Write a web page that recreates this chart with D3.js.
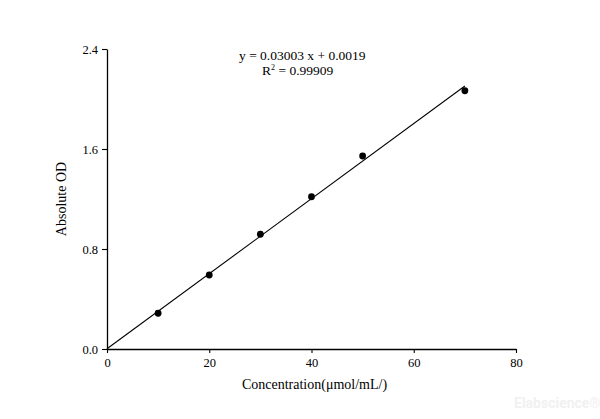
<!DOCTYPE html>
<html>
<head>
<meta charset="utf-8">
<script src="https://cdn.jsdelivr.net/npm/d3@7"></script>
<style>
  html, body { margin: 0; padding: 0; background: #fff; }
  svg text { font-family: "Liberation Serif", "Times New Roman", serif; fill: #000; }
</style>
</head>
<body>
<div id="chart"></div>
<script>
// measured standards: concentration vs absorbance
const concentration = [10, 20, 30, 40, 50, 70];
const absorbance = [0.286, 0.592, 0.918, 1.218, 1.544, 2.066];
const fitSlope = 0.03003;
const fitIntercept = 0.0019;
const fitRange = [0, 70];
const xTicks = [0, 20, 40, 60, 80];
const yTicks = [0.0, 0.8, 1.6, 2.4];

const W = 600, H = 419;
const margin = { left: 107, right: 84, top: 49, bottom: 70 };

const svg = d3.select('#chart').append('svg')
  .attr('width', W).attr('height', H);

const x = d3.scaleLinear().domain([0, 80]).range([margin.left, W - margin.right]);
const y = d3.scaleLinear().domain([0, 2.4]).range([H - margin.bottom, margin.top]);

// minor ticks at the midpoints
const xMinor = d3.range(10, 80, 20);
const yMinor = d3.range(0.4, 2.4, 0.8);

const gx = svg.append('g').attr('transform', 'translate(0,' + y(0) + ')');
gx.call(d3.axisBottom(x).tickValues(xMinor).tickSize(3).tickFormat(''));
gx.call(d3.axisBottom(x).tickValues(xTicks).tickSize(4).tickSizeOuter(0).tickPadding(5).tickFormat(d3.format('d')));

const gy = svg.append('g').attr('transform', 'translate(' + x(0) + ',0)');
gy.call(d3.axisLeft(y).tickValues(yMinor).tickSize(3).tickFormat(''));
gy.call(d3.axisLeft(y).tickValues(yTicks).tickSize(5).tickSizeOuter(0).tickPadding(4).tickFormat(d3.format('.1f')));

svg.selectAll('.domain').attr('stroke', '#000').attr('stroke-width', 1.3);
svg.selectAll('.tick line').attr('stroke', '#000').attr('stroke-width', 1.1);
svg.selectAll('.tick text')
  .style('font-family', '"Liberation Serif", serif')
  .style('font-size', '12.5px').attr('fill', '#000');

// fitted line
const line = d3.line().x(d => x(d)).y(d => y(fitSlope * d + fitIntercept));
svg.append('path').datum(fitRange)
  .attr('d', line).attr('fill', 'none').attr('stroke', '#000').attr('stroke-width', 1.1);

// points
svg.append('g').selectAll('circle').data(concentration).enter().append('circle')
  .attr('cx', d => x(d))
  .attr('cy', (d, i) => y(absorbance[i]))
  .attr('r', 3.4)
  .attr('fill', '#000');

// equation
svg.append('text').attr('x', 239).attr('y', 60)
  .style('font-size', '13.5px').text('y = 0.03003 x + 0.0019');
const r2 = svg.append('text').attr('x', 262).attr('y', 75).style('font-size', '13.5px');
r2.append('tspan').text('R');
r2.append('tspan').attr('dy', -5).style('font-size', '8px').text('2');
r2.append('tspan').attr('dy', 5).text(' = 0.99909');

// axis titles
svg.append('text')
  .attr('x', (x(0) + x(80)) / 2 + 3).attr('y', 389)
  .attr('text-anchor', 'middle').style('font-size', '14px')
  .text('Concentration(μmol/mL/)');

svg.append('text')
  .attr('transform', 'translate(66,' + ((y(0) + y(2.4)) / 2) + ') rotate(-90)')
  .attr('text-anchor', 'middle').style('font-size', '14px')
  .text('Absolute OD');

// watermark
svg.append('text')
  .attr('x', 514).attr('y', 408)
  .style('font-family', 'Roboto, "Noto Sans", sans-serif')
  .style('font-weight', 'bold').style('font-size', '14px')
  .attr('fill', '#f1f1f1').style('fill', '#f1f1f1')
  .text('Elabscience®');
</script>
</body>
</html>
